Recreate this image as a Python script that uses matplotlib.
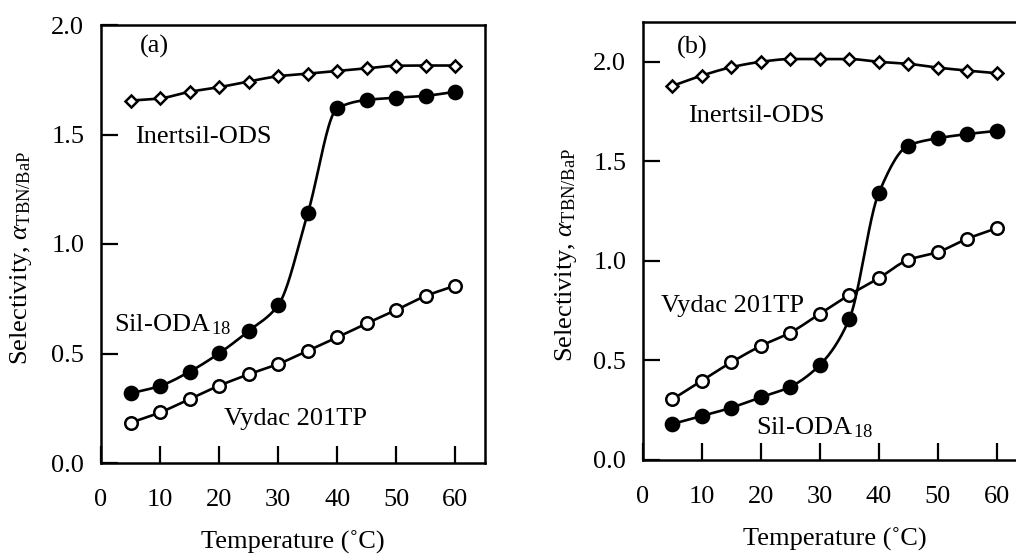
import numpy as np
import matplotlib
matplotlib.use("Agg")
import matplotlib.pyplot as plt

plt.rcParams["font.family"] = ["Liberation Serif", "DejaVu Serif"]
plt.rcParams["mathtext.fontset"] = "custom"
plt.rcParams["mathtext.rm"] = "Liberation Serif"
plt.rcParams["mathtext.it"] = "Liberation Serif:italic"

TEMPS = [5, 10, 15, 20, 25, 30, 35, 40, 45, 50, 55, 60]

# panel (a)
A_INERTSIL = [1.655, 1.665, 1.695, 1.716, 1.742, 1.766, 1.778, 1.790, 1.802, 1.814, 1.815, 1.815]
A_SILODA = [0.318, 0.352, 0.417, 0.501, 0.603, 0.721, 1.140, 1.620, 1.658, 1.668, 1.677, 1.695]
A_VYDAC = [0.184, 0.231, 0.292, 0.353, 0.405, 0.452, 0.513, 0.574, 0.638, 0.699, 0.763, 0.810]

# panel (b)
B_INERTSIL = [1.879, 1.931, 1.973, 2.000, 2.014, 2.014, 2.014, 2.000, 1.990, 1.971, 1.956, 1.943]
B_SILODA = [0.181, 0.221, 0.263, 0.315, 0.368, 0.477, 0.707, 1.340, 1.579, 1.616, 1.637, 1.653]
B_VYDAC = [0.305, 0.399, 0.491, 0.573, 0.640, 0.734, 0.829, 0.913, 1.005, 1.044, 1.111, 1.164]

FS = 19
SIL_LABEL = r"Sil-ODA$_{\,\rm 18}$"


def pchip(x, y, xs):
    # monotone cubic curve through the measured points
    x = np.asarray(x, float)
    y = np.asarray(y, float)
    h = np.diff(x)
    d = np.diff(y) / h
    m = np.zeros_like(y)
    for k in range(1, len(x) - 1):
        if d[k - 1] * d[k] > 0:
            w1 = 2 * h[k] + h[k - 1]
            w2 = h[k] + 2 * h[k - 1]
            m[k] = (w1 + w2) / (w1 / d[k - 1] + w2 / d[k])
    m[0] = d[0]
    m[-1] = d[-1]
    idx = np.clip(np.searchsorted(x, xs) - 1, 0, len(x) - 2)
    t = (xs - x[idx]) / h[idx]
    h00 = 2 * t**3 - 3 * t**2 + 1
    h10 = t**3 - 2 * t**2 + t
    h01 = -2 * t**3 + 3 * t**2
    h11 = t**3 - t**2
    return h00 * y[idx] + h10 * h[idx] * m[idx] + h01 * y[idx + 1] + h11 * h[idx] * m[idx + 1]


def draw_series(ax, y, marker, face, ms):
    xs = np.linspace(TEMPS[0], TEMPS[-1], 400)
    ax.plot(xs, pchip(TEMPS, y, xs), color="black", lw=1.9, zorder=2)
    ax.plot(TEMPS, y, linestyle="none", marker=marker, ms=ms, mfc=face,
            mec="black", mew=1.8, zorder=3)


def style_axes(ax, ymax, yticks):
    ax.set_xlim(0, 65)
    ax.set_ylim(0, ymax)
    ax.set_xticks([0, 10, 20, 30, 40, 50, 60])
    ax.set_yticks(yticks)
    ax.set_yticklabels([f"{v:.1f}" for v in yticks])
    ax.tick_params(axis="both", direction="in", length=12, width=1.6, labelsize=FS)
    ax.tick_params(axis="x", pad=19)
    ax.tick_params(axis="y", pad=12)
    for sp in ax.spines.values():
        sp.set_linewidth(1.8)
    ax.set_xlabel("Temperature (\u02daC)", fontsize=FS, labelpad=14)
    ax.set_ylabel(r"Selectivity, $\mathit{\alpha}_{\rm TBN/BaP}$", fontsize=FS)


fig = plt.figure(figsize=(10.16, 5.56), dpi=100)
W, H = 1016, 556

ax_a = fig.add_axes([101 / W, 1 - 463 / H, 384 / W, 438 / H])
draw_series(ax_a, A_INERTSIL, "D", "white", 6.3)
draw_series(ax_a, A_SILODA, "o", "black", 9.5)
draw_series(ax_a, A_VYDAC, "o", "white", 9)
style_axes(ax_a, 2.0, [0.0, 0.5, 1.0, 1.5, 2.0])
ax_a.yaxis.set_label_coords(-0.175, 0.468)
ax_a.text(6.6, 1.875, "(a)", fontsize=FS, va="baseline")
ax_a.text(5.8, 1.461, "Inertsil-ODS", fontsize=FS, va="baseline")
ax_a.text(2.2, 0.600, SIL_LABEL, fontsize=FS, va="baseline")
ax_a.text(20.9, 0.174, "Vydac 201TP", fontsize=FS, va="baseline")

ax_b = fig.add_axes([643 / W, 1 - 460 / H, 383 / W, 438 / H])
draw_series(ax_b, B_INERTSIL, "D", "white", 6.3)
draw_series(ax_b, B_SILODA, "o", "black", 9.5)
draw_series(ax_b, B_VYDAC, "o", "white", 9)
style_axes(ax_b, 2.2, [0.0, 0.5, 1.0, 1.5, 2.0])
ax_b.yaxis.set_label_coords(-0.167, 0.468)
ax_b.text(5.8, 2.04, "(b)", fontsize=FS, va="baseline")
ax_b.text(7.6, 1.70, "Inertsil-ODS", fontsize=FS, va="baseline")
ax_b.text(3.05, 0.744, "Vydac 201TP", fontsize=FS, va="baseline")
ax_b.text(19.2, 0.13, SIL_LABEL, fontsize=FS, va="baseline")

fig.savefig("out.png", dpi=100)
